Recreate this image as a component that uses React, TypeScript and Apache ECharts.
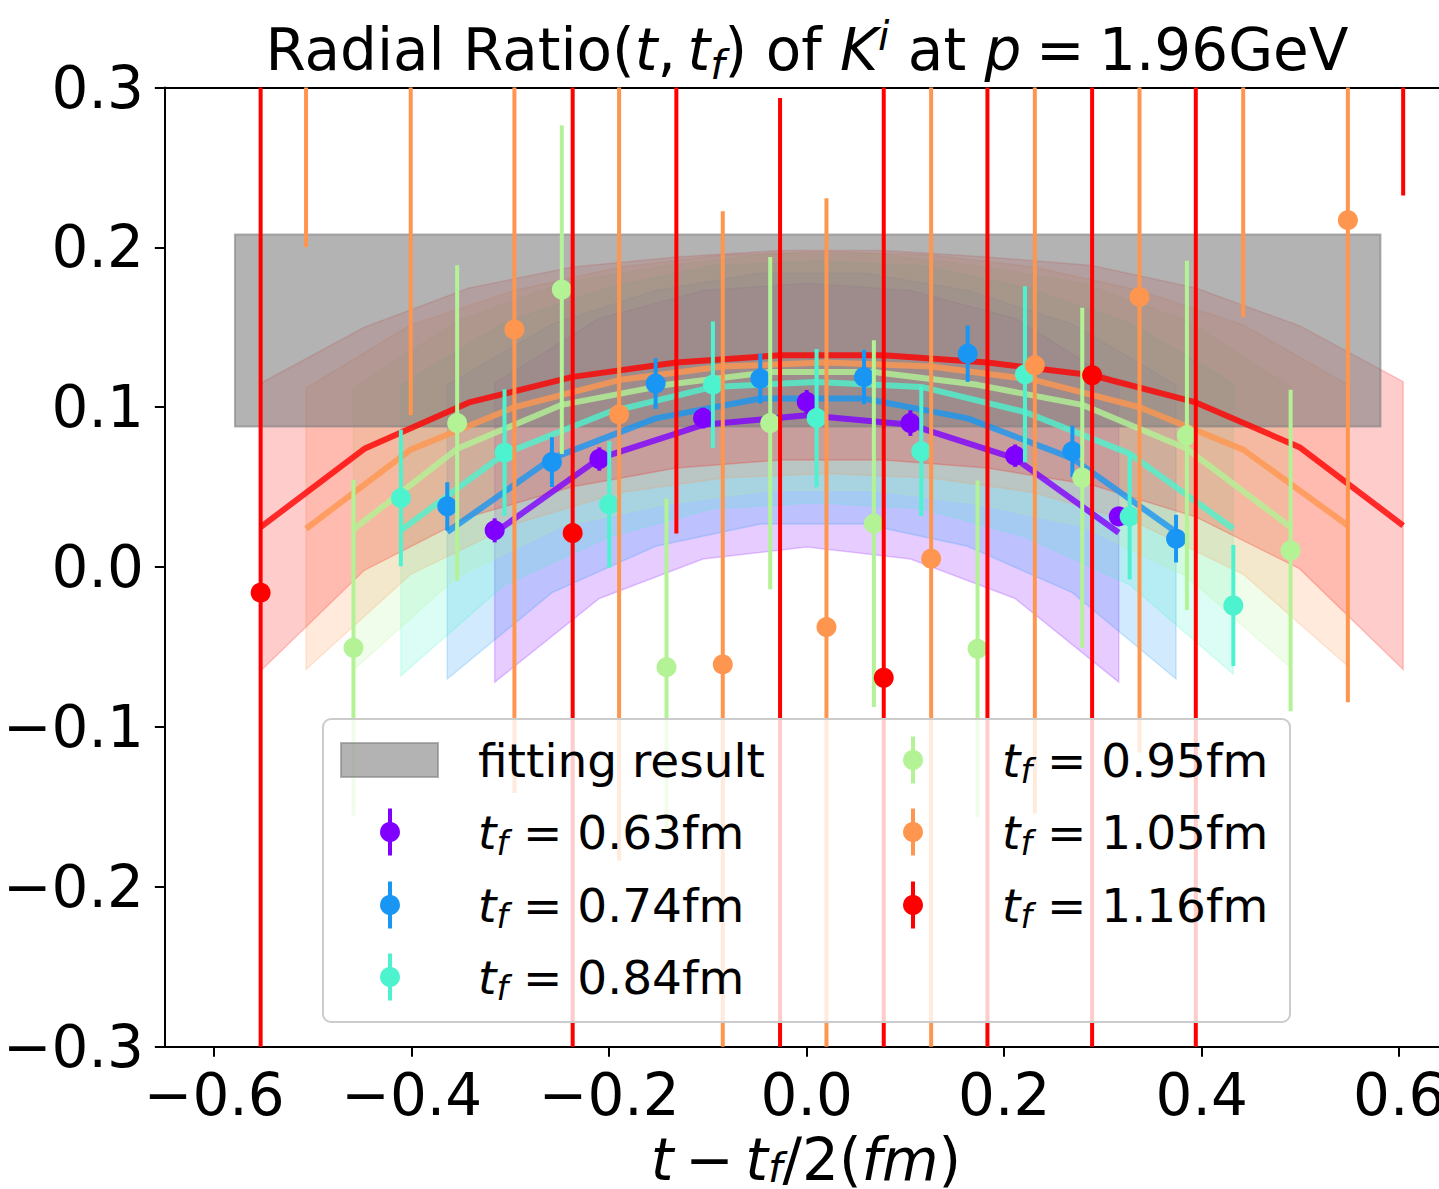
import React, { useEffect, useRef } from "react";
import * as echarts from "echarts";

const FONT = "'DejaVu Sans', sans-serif";

// ---------- axis ticks ----------
const xTickValues = [-0.6, -0.4, -0.2, 0.0, 0.2, 0.4, 0.6];
const yMin = -0.3;
const yMax = 0.3;
const yInterval = 0.1;
const xMin = -0.65;
const xMax = 0.65;

// ---------- series meta ----------
const tfLabels = ["0.63fm", "0.74fm", "0.84fm", "0.95fm", "1.05fm", "1.16fm"];
const colors = ["#8000ff", "#1996f3", "#4df3ce", "#b3f396", "#ff964f", "#ff0000"];

// ---------- fitting result band ----------
const fitResultX = [-0.579, 0.581];
const fitResultLow = 0.088;
const fitResultHigh = 0.208;

// ---------- t_f = 0.63 fm ----------
const x063 = [-0.316, -0.21, -0.105, 0.0, 0.105, 0.211, 0.316];
const y063 = [0.023, 0.0676, 0.0932, 0.1033, 0.0901, 0.0697, 0.0317];
const e063 = [0.0075, 0.0073, 0.0065, 0.0075, 0.008, 0.007, 0.006];
const fit063 = [0.0215, 0.068, 0.089, 0.095, 0.089, 0.068, 0.0215];
const band063 = [0.0935, 0.0876, 0.084, 0.0825, 0.084, 0.0876, 0.0935];

// ---------- t_f = 0.74 fm ----------
const x074 = [-0.364, -0.258, -0.153, -0.047, 0.058, 0.163, 0.269, 0.374];
const y074 = [0.038, 0.0657, 0.1148, 0.1179, 0.1189, 0.1335, 0.0724, 0.0178];
const e074 = [0.0151, 0.0156, 0.0158, 0.0156, 0.017, 0.0176, 0.016, 0.0149];
const fit074 = [0.022, 0.068, 0.093, 0.1055, 0.1055, 0.093, 0.068, 0.022];
const band074 = [0.092, 0.084, 0.08, 0.0785, 0.0785, 0.08, 0.084, 0.092];

// ---------- t_f = 0.84 fm ----------
const x084 = [-0.411, -0.306, -0.2, -0.095, 0.01, 0.116, 0.221, 0.327, 0.432];
const y084 = [0.0432, 0.0716, 0.0392, 0.1141, 0.0932, 0.0724, 0.1206, 0.0317, -0.024];
const e084 = [0.0427, 0.0396, 0.0396, 0.0396, 0.0432, 0.0405, 0.055, 0.0394, 0.0379];
const fit084 = [0.023, 0.071, 0.097, 0.1127, 0.1158, 0.1127, 0.097, 0.071, 0.024];
const band084 = [0.091, 0.082, 0.078, 0.076, 0.0756, 0.076, 0.078, 0.082, 0.091];

// ---------- t_f = 0.95 fm ----------
const x095 = [-0.459, -0.354, -0.248, -0.142, -0.037, 0.068, 0.173, 0.279, 0.385, 0.49];
const y095 = [-0.0505, 0.0901, 0.1736, -0.0626, 0.0901, 0.0272, -0.0511, 0.0559, 0.0824, 0.0104];
const e095 = [0.1051, 0.0987, 0.1028, 0.1053, 0.1039, 0.1147, 0.1053, 0.1064, 0.1092, 0.1005];
const fit095 = [0.0236, 0.074, 0.1015, 0.114, 0.122, 0.122, 0.114, 0.1015, 0.074, 0.025];
const band095 = [0.088, 0.08, 0.076, 0.0745, 0.074, 0.074, 0.0745, 0.076, 0.08, 0.088];

// ---------- t_f = 1.05 fm ----------
const x105 = [-0.507, -0.401, -0.296, -0.19, -0.085, 0.02, 0.126, 0.231, 0.337, 0.442, 0.548];
const y105 = [0.48, 0.375, 0.1487, 0.0955, -0.0609, -0.0375, 0.0053, 0.1262, 0.169, 0.44, 0.217];
const e105 = [0.28, 0.28, 0.29, 0.279, 0.2835, 0.2683, 0.31, 0.2803, 0.285, 0.2836, 0.3015];
const fit105 = [0.024, 0.0735, 0.1, 0.117, 0.1255, 0.128, 0.1255, 0.117, 0.1, 0.0735, 0.026];
const band105 = [0.088, 0.078, 0.073, 0.0705, 0.0697, 0.0694, 0.0697, 0.0705, 0.073, 0.078, 0.088];

// ---------- t_f = 1.16 fm ----------
const x116 = [-0.553, -0.448, -0.342, -0.237, -0.132, -0.027, 0.078, 0.183, 0.289, 0.394, 0.499, 0.604];
const y116 = [-0.016, null, null, 0.0213, 0.47, -0.4, -0.0692, -0.42, 0.12, 0.5, null, 0.6];
const e116 = [0.45, null, null, 0.45, 0.449, 0.6935, 0.45, 0.8, 0.5, 0.85, null, 0.3675];
const fit116 = [0.025, 0.074, 0.103, 0.119, 0.128, 0.1325, 0.1325, 0.128, 0.12, 0.103, 0.075, 0.026];
const band116 = [0.09, 0.076, 0.0716, 0.0687, 0.066, 0.0655, 0.0655, 0.066, 0.0687, 0.0716, 0.076, 0.09];

const groups = [
  { x: x063, y: y063, e: e063, fit: fit063, band: band063 },
  { x: x074, y: y074, e: e074, fit: fit074, band: band074 },
  { x: x084, y: y084, e: e084, fit: fit084, band: band084 },
  { x: x095, y: y095, e: e095, fit: fit095, band: band095 },
  { x: x105, y: y105, e: e105, fit: fit105, band: band105 },
  { x: x116, y: y116, e: e116, fit: fit116, band: band116 },
];

function rgba(hex: string, a: number) {
  const r = parseInt(hex.slice(1, 3), 16);
  const g = parseInt(hex.slice(3, 5), 16);
  const b = parseInt(hex.slice(5, 7), 16);
  return `rgba(${r},${g},${b},${a})`;
}

const fmt = (v: number) => (v < -1e-9 ? "\u2212" : "") + Math.abs(v).toFixed(1);

const BASE = 58;
const LEG = 47;

// lh: line height of the whole line; shift: how far sub/superscripts move from the line centre
function richStyles(size: number, lh: number, shiftDown: number, shiftUp: number) {
  const sub = Math.round(size * 0.7);
  return {
    n: { fontSize: size, fontFamily: FONT, fill: "#000", color: "#000", lineHeight: lh },
    i: { fontSize: size, fontFamily: FONT, fontStyle: "italic", fill: "#000", color: "#000", lineHeight: lh },
    s: {
      fontSize: sub, fontFamily: FONT, fontStyle: "italic", fill: "#000", color: "#000",
      lineHeight: Math.max(2, lh - 2 * shiftDown), verticalAlign: "bottom",
    },
    u: {
      fontSize: sub, fontFamily: FONT, fontStyle: "italic", fill: "#000", color: "#000",
      lineHeight: Math.max(2, lh - 2 * shiftUp), verticalAlign: "top",
    },
  };
}

function buildOption() {
  const series: any[] = [];

  // bands
  groups.forEach((g, k) => {
    series.push({
      type: "custom",
      name: "band" + k,
      z: 1,
      silent: true,
      clip: true,
      encode: { x: 0, y: 1 },
      data: g.x.map((x, i) => [x, g.fit[i], g.band[i]]),
      renderItem: (params: any, api: any) => {
        if (params.dataIndex !== 0) return null;
        const up = g.x.map((x, i) => api.coord([x, g.fit[i] + g.band[i]]));
        const lo = g.x.map((x, i) => api.coord([x, g.fit[i] - g.band[i]])).reverse();
        return {
          type: "polygon",
          shape: { points: up.concat(lo) },
          style: { fill: rgba(colors[k], 0.2), stroke: rgba(colors[k], 0.2), lineWidth: 1.5 },
        };
      },
    });
  });

  // fitting result gray rectangle
  series.push({
    type: "custom",
    name: "fitting result",
    z: 2,
    silent: true,
    clip: true,
    encode: { x: 0, y: 1 },
    data: [[fitResultX[0], fitResultLow, fitResultX[1], fitResultHigh]],
    renderItem: (params: any, api: any) => {
      const p1 = api.coord([api.value(0), api.value(3)]);
      const p2 = api.coord([api.value(2), api.value(1)]);
      return {
        type: "rect",
        shape: { x: p1[0], y: p1[1], width: p2[0] - p1[0], height: p2[1] - p1[1] },
        style: { fill: "rgba(128,128,128,0.6)", stroke: "rgba(128,128,128,0.6)", lineWidth: 2 },
      };
    },
  });

  // fit lines
  groups.forEach((g, k) => {
    series.push({
      type: "line",
      name: "fit" + k,
      z: 3,
      silent: true,
      showSymbol: false,
      clip: true,
      data: g.x.map((x, i) => [x, g.fit[i]]),
      lineStyle: { color: colors[k], width: 6, opacity: 0.8, join: "round" },
    });
  });

  // error bars + markers
  groups.forEach((g, k) => {
    const d: number[][] = [];
    g.x.forEach((x, i) => {
      if (g.y[i] !== null && g.y[i] !== undefined) d.push([x, g.y[i] as number, g.e[i] as number]);
    });
    series.push({
      type: "custom",
      name: "tf " + tfLabels[k],
      z: 4,
      silent: true,
      clip: true,
      encode: { x: 0, y: 1 },
      data: d,
      renderItem: (params: any, api: any) => {
        const x = api.value(0);
        const y = api.value(1);
        const e = api.value(2);
        const t = api.coord([x, y + e]);
        const b = api.coord([x, y - e]);
        const c = api.coord([x, y]);
        return {
          type: "group",
          children: [
            { type: "line", shape: { x1: t[0], y1: t[1], x2: b[0], y2: b[1] }, style: { stroke: colors[k], lineWidth: 4 } },
            { type: "circle", shape: { cx: c[0], cy: c[1], r: 10 }, style: { fill: colors[k] } },
          ],
        };
      },
    });
  });

  // ---------- graphic: title, x label, legend ----------
  const graphics: any[] = [];
  graphics.push({
    type: "text",
    z: 100,
    style: {
      x: 807,
      y: 50,
      align: "center",
      verticalAlign: "middle",
      text: "{n|Radial Ratio(}{i|t}{n|,\u2009}{i|t}{s|f}{n|) of }{i|K}{u|i}{n| at }{i|p}{n|\u2005=\u20051.96GeV}",
      rich: richStyles(BASE, 70, 17, 17),
      fontSize: BASE,
      fontFamily: FONT,
      fill: "#000",
    },
  });
  graphics.push({
    type: "text",
    z: 100,
    style: {
      x: 806,
      y: 1160,
      align: "center",
      verticalAlign: "middle",
      text: "{i|t}{n|\u2009\u2212\u2009}{i|t}{s|f}{n|/2(}{i|fm}{n|)}",
      rich: richStyles(BASE, 56, 17, 17),
      fontSize: BASE,
      fontFamily: FONT,
      fill: "#000",
    },
  });

  // legend frame
  graphics.push({
    type: "rect",
    z: 100,
    shape: { x: 323, y: 719, width: 967, height: 303, r: 8 },
    style: { fill: "rgba(255,255,255,0.8)", stroke: "#cccccc", lineWidth: 2 },
  });
  graphics.push({
    type: "rect",
    z: 101,
    shape: { x: 341, y: 743, width: 97, height: 34 },
    style: { fill: "rgba(128,128,128,0.6)", stroke: "rgba(128,128,128,0.6)", lineWidth: 2 },
  });
  graphics.push({
    type: "text",
    z: 101,
    style: {
      x: 478, y: 760, align: "left", verticalAlign: "middle",
      text: "fitting result", fontSize: LEG, fontFamily: FONT, fill: "#000",
    },
  });
  const legPos = [
    [390, 478, 832],
    [390, 478, 905],
    [390, 478, 977],
    [913, 1002, 760],
    [913, 1002, 832],
    [913, 1002, 905],
  ];
  legPos.forEach((p, k) => {
    const [mx, tx, cy] = p;
    graphics.push({
      type: "line", z: 101,
      shape: { x1: mx, y1: cy - 23.5, x2: mx, y2: cy + 23.5 },
      style: { stroke: colors[k], lineWidth: 4 },
    });
    graphics.push({
      type: "circle", z: 102,
      shape: { cx: mx, cy: cy, r: 10 },
      style: { fill: colors[k] },
    });
    graphics.push({
      type: "text", z: 101,
      style: {
        x: tx, y: cy, align: "left", verticalAlign: "middle",
        text: "{i|t}{s|f}{n| = " + tfLabels[k] + "}",
        rich: richStyles(LEG, 56, 14, 14), fontSize: LEG, fontFamily: FONT, fill: "#000",
      },
    });
  });

  return {
    animation: false,
    backgroundColor: "#ffffff",
    grid: { left: 162.7, top: 87.5, right: 11.4, bottom: 142.3, containLabel: false },
    xAxis: [
      {
        type: "value",
        min: xMin,
        max: xMax,
        position: "bottom",
        axisLine: { show: true, onZero: false, lineStyle: { color: "#000", width: 2 } },
        axisTick: { show: true, length: 10, lineStyle: { color: "#000", width: 2 }, customValues: xTickValues },
        axisLabel: {
          show: true, customValues: xTickValues, formatter: fmt, color: "#000",
          fontSize: BASE, fontFamily: FONT, margin: 19,
        },
        splitLine: { show: false },
      },
      {
        type: "value",
        min: xMin,
        max: xMax,
        position: "top",
        axisLine: { show: true, onZero: false, lineStyle: { color: "#000", width: 2 } },
        axisTick: { show: false },
        axisLabel: { show: false },
        splitLine: { show: false },
      },
    ],
    yAxis: {
      type: "value",
      min: yMin,
      max: yMax,
      interval: yInterval,
      axisLine: { show: true, onZero: false, lineStyle: { color: "#000", width: 2 } },
      axisTick: { show: true, length: 10, lineStyle: { color: "#000", width: 2 } },
      axisLabel: { formatter: fmt, color: "#000", fontSize: BASE, fontFamily: FONT, margin: 21 },
      splitLine: { show: false },
    },
    series,
    graphic: graphics,
  };
}

export default function App() {
  const ref = useRef<HTMLDivElement>(null);
  useEffect(() => {
    if (!ref.current) return;
    const chart = echarts.init(ref.current, undefined, { renderer: "svg" });
    chart.setOption(buildOption() as any);
    return () => chart.dispose();
  }, []);
  return (
    <div
      style={{
        position: "fixed", left: 0, top: 0, width: 1439, height: 1189,
        overflow: "hidden", background: "#ffffff",
      }}
    >
      <div ref={ref} style={{ width: 1460, height: 1189 }} />
    </div>
  );
}
